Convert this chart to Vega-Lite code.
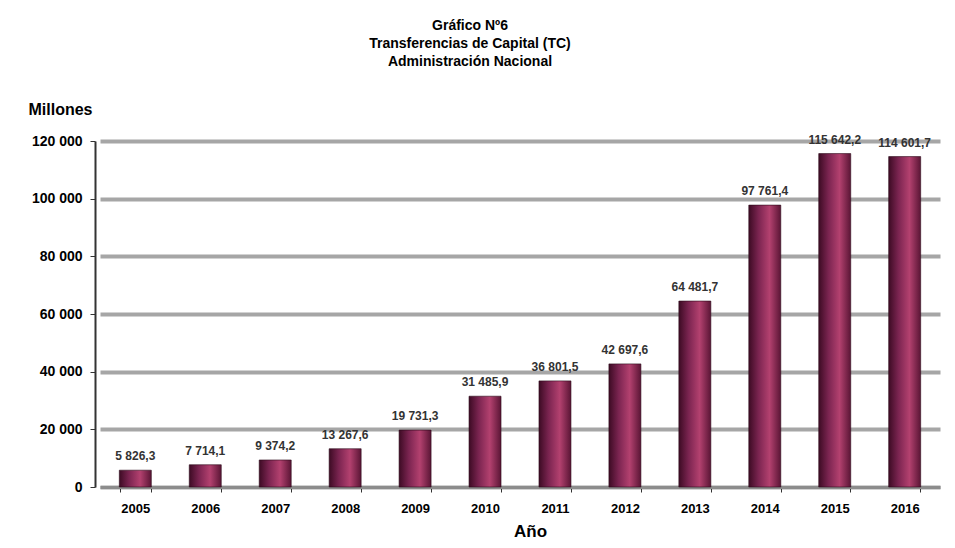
{
  "$schema": "https://vega.github.io/schema/vega-lite/v6.json",
  "autosize": "none",
  "width": 840,
  "height": 346,
  "padding": {"left": 100, "top": 141, "right": 15, "bottom": 61},
  "background": "white",
  "config": {
    "font": "Liberation Sans",
    "view": {"stroke": null},
    "locale": {"number": {"decimal": ",", "thousands": " ", "grouping": [3], "currency": ["$", ""]}}
  },
  "title": {
    "text": ["Gráfico Nº6", "Transferencias de Capital (TC)", "Administración  Nacional"],
    "anchor": "middle",
    "frame": "group",
    "offset": 32,
    "dx": -50,
    "fontSize": 14,
    "fontWeight": "bold",
    "lineHeight": 18,
    "color": "#000000"
  },
  "data": {
    "values": [
      {"anio": "2005", "valor": 5826.3},
      {"anio": "2006", "valor": 7714.1},
      {"anio": "2007", "valor": 9374.2},
      {"anio": "2008", "valor": 13267.6},
      {"anio": "2009", "valor": 19731.3},
      {"anio": "2010", "valor": 31485.9},
      {"anio": "2011", "valor": 36801.5},
      {"anio": "2012", "valor": 42697.6},
      {"anio": "2013", "valor": 64481.7},
      {"anio": "2014", "valor": 97761.4},
      {"anio": "2015", "valor": 115642.2},
      {"anio": "2016", "valor": 114601.7}
    ]
  },
  "encoding": {
    "x": {
      "field": "anio",
      "type": "ordinal",
      "scale": {"paddingInner": 0.55, "paddingOuter": 0.28},
      "axis": {
        "title": "Año",
        "titleFontSize": 17,
        "titleFontWeight": "bold",
        "titleX": 430,
        "titleY": 44,
        "titleBaseline": "middle",
        "labelAngle": 0,
        "labelFontSize": 13,
        "labelFontWeight": "bold",
        "labelPadding": 10,
        "domainColor": "#8c8c8c",
        "domainWidth": 3,
        "tickColor": "#333333",
        "tickSize": 5,
        "tickBand": "extent"
      }
    },
    "y": {
      "field": "valor",
      "type": "quantitative",
      "scale": {"domain": [0, 120000], "nice": false},
      "axis": {
        "title": "Millones",
        "titleAngle": 0,
        "titleAlign": "left",
        "titleBaseline": "middle",
        "titleX": -67,
        "titleY": -32,
        "titleFontSize": 16,
        "titleFontWeight": "bold",
        "values": [0, 20000, 40000, 60000, 80000, 100000, 120000],
        "format": ",d",
        "labelFontSize": 14,
        "labelFontWeight": "bold",
        "labelPadding": 8,
        "offset": 5,
        "domainColor": "#333333",
        "domainWidth": 2,
        "tickColor": "#333333",
        "tickSize": 5,
        "gridColor": "#a6a6a6",
        "gridWidth": 4,
        "gridOpacity": 1
      }
    }
  },
  "layer": [
    {
      "mark": {
        "type": "bar",
        "size": 32,
        "fill": {
          "gradient": "linear",
          "x1": 0, "x2": 1, "y1": 0, "y2": 0,
          "stops": [
            {"offset": 0, "color": "#3d0b24"},
            {"offset": 0.3, "color": "#7a2450"},
            {"offset": 0.65, "color": "#b3416f"},
            {"offset": 1, "color": "#5a1535"}
          ]
        },
        "stroke": "#2a0818",
        "strokeWidth": 0.6
      }
    },
    {
      "mark": {
        "type": "text",
        "baseline": "bottom",
        "dy": -7,
        "fontSize": 12,
        "fontWeight": "bold",
        "color": "#333333"
      },
      "encoding": {
        "text": {"field": "valor", "type": "quantitative", "format": ",.1f"}
      }
    }
  ]
}
